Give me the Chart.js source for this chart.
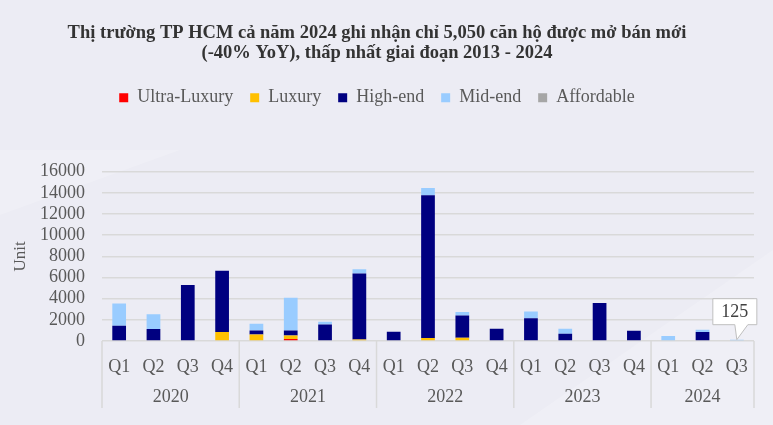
<!DOCTYPE html>
<html>
<head>
<meta charset="utf-8">
<script src="https://cdn.jsdelivr.net/npm/chart.js@4.4.1/dist/chart.umd.min.js"></script>
<style>
html,body{margin:0;padding:0;background:#ededf5;}
#wrap{width:773px;height:425px;position:relative;}
</style>
</head>
<body>
<div id="wrap"><canvas id="c" width="773" height="425"></canvas></div>
<script>
const quarters = ['Q1','Q2','Q3','Q4','Q1','Q2','Q3','Q4','Q1','Q2','Q3','Q4','Q1','Q2','Q3','Q4','Q1','Q2','Q3'];
const years = ['2020','2021','2022','2023','2024'];
const quartersPerYear = [4,4,4,4,3];
const yTicks = [0,2000,4000,6000,8000,10000,12000,14000,16000];

const ultraLuxury = [0,0,0,0, 0,190,0,0, 0,0,0,0, 0,0,0,0, 0,0,0];
const luxury      = [0,80,0,850, 620,340,0,150, 0,280,310,60, 0,0,60,0, 0,0,0];
const highEnd     = [1450,1050,5300,5800, 370,460,1550,6240, 870,13490,2110,1090, 2140,680,3540,960, 0,840,0];
const midEnd      = [2100,1400,0,0, 650,3100,280,400, 0,680,310,0, 650,470,0,0, 470,220,125];
const affordable  = [0,0,0,0, 0,0,0,0, 0,0,0,0, 0,0,0,0, 0,0,0];

const calloutIndex = 18;
const calloutText = '125';

const FONT = "'Liberation Serif', 'DejaVu Serif', serif";
const TXT = '#595959';
const GRID = '#d9d9d9';

const bgPlugin = {
  id: 'bg',
  beforeDraw(chart){
    const {ctx, width, height} = chart;
    ctx.save();
    ctx.fillStyle = '#ececf4';
    ctx.fillRect(0,0,width,height);
    ctx.fillStyle = 'rgba(255,255,255,0.18)';
    ctx.beginPath();
    ctx.moveTo(0,215); ctx.lineTo(180,150); ctx.lineTo(0,150); ctx.closePath(); ctx.fill();
    ctx.beginPath();
    ctx.moveTo(520,425); ctx.lineTo(773,250); ctx.lineTo(773,425); ctx.closePath(); ctx.fill();
    ctx.restore();
  }
};

const legendMargin = {
  id: 'legendMargin',
  beforeInit(chart){
    const orig = chart.legend.fit;
    chart.legend.fit = function(){
      orig.bind(chart.legend)();
      this.height += 55;
    };
  }
};

const yearPlugin = {
  id: 'years',
  afterDraw(chart){
    const {ctx, chartArea} = chart;
    const x = chart.scales.x;
    const half = (x.getPixelForValue(1) - x.getPixelForValue(0)) / 2;
    ctx.save();
    ctx.strokeStyle = GRID;
    ctx.lineWidth = 1.5;
    ctx.fillStyle = TXT;
    ctx.font = "18px " + FONT;
    ctx.textAlign = 'center';
    ctx.textBaseline = 'middle';
    let start = 0;
    const bottomY = 408;
    years.forEach((yr, i) => {
      const n = quartersPerYear[i];
      const l = x.getPixelForValue(start) - half;
      const r = x.getPixelForValue(start + n - 1) + half;
      ctx.beginPath(); ctx.moveTo(l, chartArea.bottom); ctx.lineTo(l, bottomY); ctx.stroke();
      if (i === years.length - 1) {
        ctx.beginPath(); ctx.moveTo(r, chartArea.bottom); ctx.lineTo(r, bottomY); ctx.stroke();
      }
      ctx.fillText(yr, (l + r) / 2, 397);
      start += n;
    });
    ctx.restore();
  }
};

const calloutPlugin = {
  id: 'callout',
  afterDatasetsDraw(chart){
    const {ctx} = chart;
    const x = chart.scales.x, y = chart.scales.y;
    const total = ultraLuxury[calloutIndex] + luxury[calloutIndex] + highEnd[calloutIndex] + midEnd[calloutIndex] + affordable[calloutIndex];
    const px = x.getPixelForValue(calloutIndex);
    const py = y.getPixelForValue(total);
    const left = px - 24, right = px + 20, top = py - 41, bottom = py - 15;
    ctx.save();
    ctx.fillStyle = '#ffffff';
    ctx.strokeStyle = '#bfbfbf';
    ctx.lineWidth = 1;
    ctx.beginPath();
    ctx.moveTo(left, top);
    ctx.lineTo(right, top);
    ctx.lineTo(right, bottom);
    ctx.lineTo(px + 11, bottom);
    ctx.lineTo(px, py);
    ctx.lineTo(px - 2, bottom);
    ctx.lineTo(left, bottom);
    ctx.closePath();
    ctx.fill();
    ctx.stroke();
    ctx.fillStyle = '#404040';
    ctx.font = "18px " + FONT;
    ctx.textAlign = 'center';
    ctx.textBaseline = 'middle';
    ctx.fillText(calloutText, (left + right) / 2, (top + bottom) / 2 + 1);
    ctx.restore();
  }
};

const ds = (label, data, color) => ({
  label, data, backgroundColor: color, borderWidth: 0,
  barPercentage: 0.8, categoryPercentage: 0.5, stack: 's'
});

new Chart(document.getElementById('c'), {
  type: 'bar',
  data: {
    labels: quarters,
    datasets: [
      ds('Ultra-Luxury', ultraLuxury, '#ff0000'),
      ds('Luxury', luxury, '#ffc000'),
      ds('High-end', highEnd, '#000080'),
      ds('Mid-end', midEnd, '#99ccff'),
      ds('Affordable', affordable, '#a6a6a6')
    ]
  },
  options: {
    responsive: false,
    animation: false,
    devicePixelRatio: 1,
    layout: { padding: { top: 0, right: 19, bottom: 0, left: 0 } },
    plugins: {
      title: {
        display: true,
        text: ['Thị trường TP HCM cả năm 2024 ghi nhận chỉ 5,050 căn hộ được mở bán mới', '(-40% YoY), thấp nhất giai đoạn 2013 - 2024'],
        color: '#333333',
        font: { family: FONT, size: 18.5, weight: 'bold', lineHeight: 1.1 },
        padding: { top: 23, bottom: 8 }
      },
      legend: {
        display: true,
        position: 'top',
        labels: {
          color: TXT,
          font: { family: FONT, size: 18 },
          boxWidth: 9, boxHeight: 9,
          padding: 17
        }
      },
      tooltip: { enabled: false }
    },
    scales: {
      x: {
        stacked: true,
        grid: { display: false, drawTicks: false },
        border: { display: false },
        ticks: { color: TXT, font: { family: FONT, size: 18 }, padding: 15, maxRotation: 0, autoSkip: false },
        afterFit(s){ s.height = 84; }
      },
      y: {
        stacked: true,
        min: 0, max: 16000,
        afterBuildTicks(s){ s.ticks = yTicks.map(v => ({ value: v })); },
        grid: { color: GRID, lineWidth: 1.5, drawTicks: false },
        border: { display: false },
        ticks: { color: TXT, font: { family: FONT, size: 18 }, padding: 17, autoSkip: false, callback: v => String(v) },
        title: { display: true, text: 'Unit', color: TXT, font: { family: FONT, size: 17 }, padding: { top: 10, bottom: 0 } },
        afterFit(s){ s.width = 102; }
      }
    }
  },
  plugins: [bgPlugin, legendMargin, yearPlugin, calloutPlugin]
});
</script>
</body>
</html>
